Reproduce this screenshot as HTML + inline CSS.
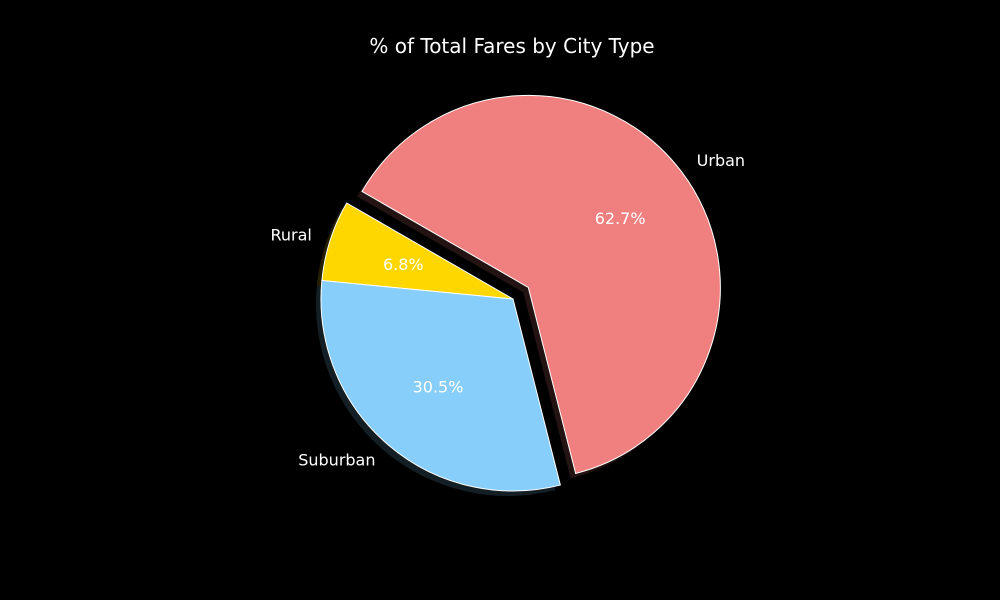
<!DOCTYPE html>
<html><head><meta charset="utf-8"><style>
body{margin:0;background:#000;}
svg{display:block;font-family:"DejaVu Sans","Liberation Sans",sans-serif;}
</style></head><body>
<svg id="chart" width="1000" height="600" viewBox="0 0 1000 600">
<rect width="1000" height="600" fill="#000"/>
<text x="512" y="53" fill="#fff" font-size="20" text-anchor="middle">% of Total Fares by City Type</text>
<g id="shadows"></g><g id="wedges"></g><g id="labels"></g>
</svg>
<script>
const categories = ["Rural","Suburban","Urban"];
const values = [6.8,30.5,62.7];
const colors = ["#ffd700","#87cefa","#f08080"];
const explode = [0,0,0.1];
const cx=513, cy=299, r=192, start=150;
const NS="http://www.w3.org/2000/svg";
const total=values.reduce((a,b)=>a+b,0);
function pt(x,y,rad,deg){const a=deg*Math.PI/180;return [x+rad*Math.cos(a), y-rad*Math.sin(a)];}
function wedgePath(x,y,a0,a1){
  const p0=pt(x,y,r,a0), p1=pt(x,y,r,a1);
  const large=(a1-a0)>180?1:0;
  return `M${x},${y} L${p0[0]},${p0[1]} A${r},${r} 0 ${large} 0 ${p1[0]},${p1[1]} Z`;
}
let ang=start;
values.forEach((v,i)=>{
  const span=v/total*360, a0=ang, a1=ang+span, mid=(a0+a1)/2;
  ang=a1;
  const [ox,oy]=pt(cx,cy,explode[i]*r,mid);
  const sh=document.createElementNS(NS,"path");
  sh.setAttribute("d",wedgePath(ox-5,oy+5,a0,a1));
  sh.setAttribute("fill",colors[i]);sh.setAttribute("fill-opacity","0.15");
  
  
  document.getElementById("shadows").appendChild(sh);
  const w=document.createElementNS(NS,"path");
  w.setAttribute("d",wedgePath(ox,oy,a0,a1));
  w.setAttribute("fill",colors[i]);w.setAttribute("stroke","#fff");w.setAttribute("stroke-width","1");
  
  
  document.getElementById("wedges").appendChild(w);
  const [px,py]=pt(ox,oy,0.6*r,mid);
  const t=document.createElementNS(NS,"text");
  t.setAttribute("x",px);t.setAttribute("y",py+6);t.setAttribute("fill","#fff");
  t.setAttribute("font-size","16");t.setAttribute("text-anchor","middle");
  t.textContent=v.toFixed(1)+"%";
  
  
  document.getElementById("labels").appendChild(t);
  const [lx,ly]=pt(ox,oy,1.1*r,mid);
  const l=document.createElementNS(NS,"text");
  l.setAttribute("x",lx);l.setAttribute("y",ly+6);l.setAttribute("fill","#fff");
  l.setAttribute("font-size","16");
  l.setAttribute("text-anchor",Math.cos(mid*Math.PI/180)>=0?"start":"end");
  l.textContent=categories[i];
  
  
  document.getElementById("labels").appendChild(l);
});
</script>
</body></html>
